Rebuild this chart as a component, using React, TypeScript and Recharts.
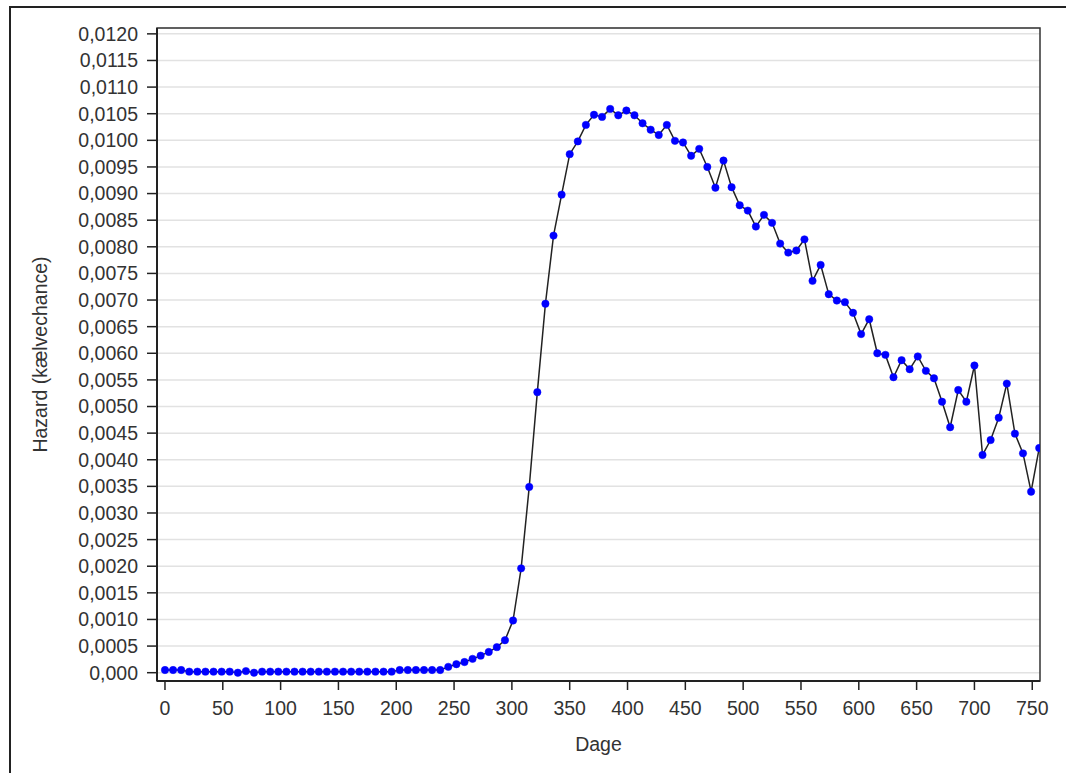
import { CartesianGrid, Label, Line, LineChart, ReferenceArea, XAxis, YAxis } from "recharts";

const days = [
  0, 7, 14, 21, 28, 35, 42, 49, 56, 63, 70, 77, 84, 91, 98, 105, 112, 119, 126, 133,
  140, 147, 154, 161, 168, 175, 182, 189, 196, 203, 210, 217, 224, 231, 238, 245, 252, 259, 266, 273,
  280, 287, 294, 301, 308, 315, 322, 329, 336, 343, 350, 357, 364, 371, 378, 385, 392, 399, 406, 413,
  420, 427, 434, 441, 448, 455, 462, 469, 476, 483, 490, 497, 504, 511, 518, 525, 532, 539, 546, 553,
  560, 567, 574, 581, 588, 595, 602, 609, 616, 623, 630, 637, 644, 651, 658, 665, 672, 679, 686, 693,
  700, 707, 714, 721, 728, 735, 742, 749, 756,
];

const hazard = [
  0.00005, 0.00005, 0.00005, 0.00002, 0.00002, 0.00002, 0.00002, 0.00002, 0.00002, 0.0,
  0.00003, 0.0, 0.00002, 0.00002, 0.00002, 0.00002, 0.00002, 0.00002, 0.00002, 0.00002,
  0.00002, 0.00002, 0.00002, 0.00002, 0.00002, 0.00002, 0.00002, 0.00002, 0.00002, 0.00005,
  0.00005, 0.00005, 0.00005, 0.00005, 0.00005, 0.00011, 0.00016, 0.0002, 0.00026, 0.00032,
  0.00039, 0.00048, 0.00061, 0.00098, 0.00196, 0.00349, 0.00527, 0.00693, 0.00821, 0.00898,
  0.00974, 0.00998, 0.01029, 0.01048, 0.01044, 0.01059, 0.01047, 0.01056, 0.01047, 0.01032,
  0.0102, 0.0101, 0.01029, 0.00999, 0.00996, 0.00971, 0.00984, 0.0095, 0.00911, 0.00962,
  0.00912, 0.00878, 0.00868, 0.00838, 0.0086, 0.00845, 0.00806, 0.00789, 0.00793, 0.00814,
  0.00736, 0.00766, 0.00711, 0.00699, 0.00696, 0.00676, 0.00636, 0.00664, 0.006, 0.00597,
  0.00555, 0.00587, 0.0057, 0.00594, 0.00567, 0.00553, 0.00509, 0.00461, 0.00531, 0.00509,
  0.00577, 0.00409, 0.00437, 0.00479, 0.00543, 0.00449, 0.00412, 0.0034, 0.00422,
];

const xTicks = [0, 50, 100, 150, 200, 250, 300, 350, 400, 450, 500, 550, 600, 650, 700, 750];
const yTicks = [
  0, 0.0005, 0.001, 0.0015, 0.002, 0.0025, 0.003, 0.0035, 0.004, 0.0045, 0.005, 0.0055, 0.006,
  0.0065, 0.007, 0.0075, 0.008, 0.0085, 0.009, 0.0095, 0.01, 0.0105, 0.011, 0.0115, 0.012,
];

const X_DOMAIN: [number, number] = [-6.9, 756.7];
const Y_DOMAIN: [number, number] = [-0.000156, 0.01211];

const FONT = "'Liberation Sans', Arial, sans-serif";
const TEXT = "#333333";
const FONT_SIZE = 19.5;
const tickStyle = { fill: TEXT, fontSize: FONT_SIZE, fontFamily: FONT };

const data = days.map((day, i) => ({ day, hazard: hazard[i] }));

const fmtY = (v: number) => (v === 0 ? "0,000" : v.toFixed(4).replace(".", ","));

export default function App() {
  return (
    <div style={{ position: "absolute", left: 0, top: 0, width: 1066, height: 773, background: "#fff" }}>
      <div
        style={{
          position: "absolute",
          left: 9,
          top: 6,
          width: 1070,
          height: 780,
          borderLeft: "2px solid #222",
          borderTop: "2px solid #222",
        }}
      />
      <LineChart
        width={1066}
        height={773}
        data={data}
        margin={{ top: 28, right: 26, left: 57, bottom: 32 }}
        style={{ position: "absolute", left: 0, top: 0 }}
      >
        <CartesianGrid vertical={false} stroke="#e2e2e2" strokeWidth={1.5} />
        <XAxis
          dataKey="day"
          type="number"
          domain={X_DOMAIN}
          ticks={xTicks}
          allowDataOverflow
          interval={0}
          height={60}
          tick={tickStyle}
          tickSize={9}
          tickMargin={11}
          axisLine={{ stroke: "#222", strokeWidth: 2 }}
          tickLine={{ stroke: "#222", strokeWidth: 1.5 }}
        >
          <Label
            content={() => (
              <text x={598.5} y={751} textAnchor="middle" fill={TEXT} fontSize={FONT_SIZE} fontFamily={FONT}>
                Dage
              </text>
            )}
          />
        </XAxis>
        <YAxis
          type="number"
          domain={Y_DOMAIN}
          ticks={yTicks}
          allowDataOverflow
          interval={0}
          width={100}
          tick={tickStyle}
          tickFormatter={fmtY}
          tickSize={10}
          tickMargin={9}
          axisLine={{ stroke: "#222", strokeWidth: 2 }}
          tickLine={{ stroke: "#222", strokeWidth: 1.5 }}
        >
          <Label
            content={() => (
              <text
                x={47}
                y={354.5}
                transform="rotate(-90, 47, 354.5)"
                textAnchor="middle"
                fill={TEXT}
                fontSize={FONT_SIZE}
                fontFamily={FONT}
              >
                Hazard (kælvechance)
              </text>
            )}
          />
        </YAxis>
        <ReferenceArea
          x1={X_DOMAIN[0]}
          x2={X_DOMAIN[1]}
          y1={Y_DOMAIN[0]}
          y2={Y_DOMAIN[1]}
          fill="none"
          stroke="#333"
          strokeWidth={1.5}
        />
        <Line
          type="linear"
          dataKey="hazard"
          stroke="#222"
          strokeWidth={1.5}
          dot={{ r: 3.7, fill: "#0000ff", stroke: "#0000ff", strokeWidth: 0.5 }}
          activeDot={false}
          isAnimationActive={false}
        />
      </LineChart>
    </div>
  );
}
